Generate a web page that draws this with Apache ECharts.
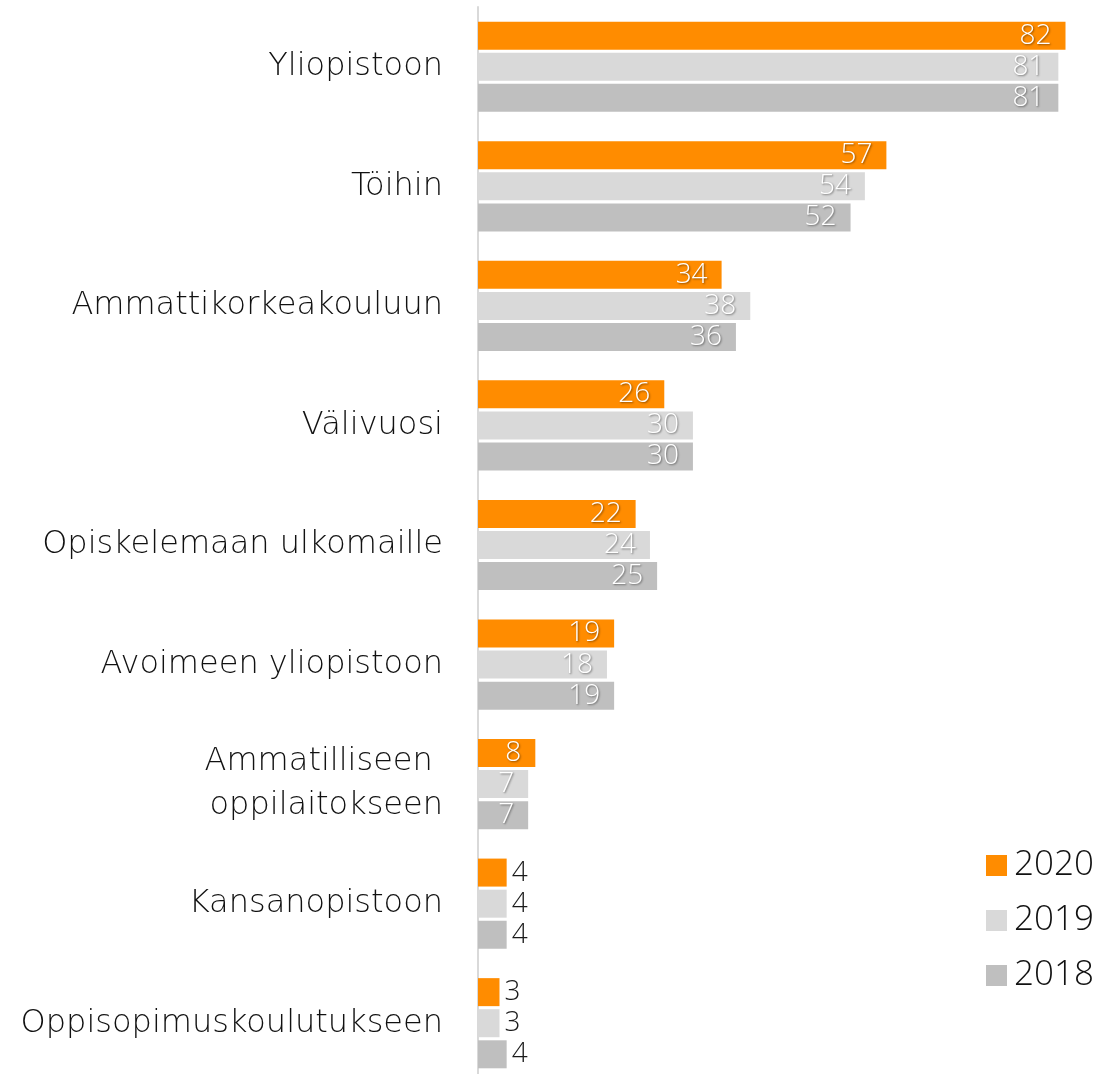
<!DOCTYPE html>
<html>
<head>
<meta charset="utf-8">
<script src="https://cdn.jsdelivr.net/npm/echarts@6/dist/echarts.min.js"></script>
<style>html,body{margin:0;padding:0;background:#fff;overflow:hidden}#c{width:1099px;height:1090px}</style>
</head>
<body>
<div id="c"></div>
<script>
const categories = ["Yliopistoon","Töihin","Ammattikorkeakouluun","Välivuosi","Opiskelemaan ulkomaille","Avoimeen yliopistoon","Ammatilliseen \noppilaitokseen","Kansanopistoon","Oppisopimuskoulutukseen"];
const seriesNames = ["2020","2019","2018"];
const values2020 = [82,57,34,26,22,19,8,4,3];
const values2019 = [81,54,38,30,24,18,7,4,3];
const values2018 = [81,52,36,30,25,19,7,4,4];
const colors = ["#FF8C00","#D9D9D9","#BFBFBF"];
const FONT = "Open Sans";
const CAT_FONT = "DejaVu Sans";

function mkData(arr){
  return arr.map(v => v < 5 ? {value:v, label:{position:'right', distance:5, color:'#1a1a1a', textShadowColor:'transparent', textShadowBlur:0, textShadowOffsetX:0, textShadowOffsetY:0}} : v);
}
function mkSeries(name, arr, color){
  return {
    name, type:'bar', data: mkData(arr), barWidth:28, barGap:'11%',
    itemStyle:{color},
    label:{show:true, position:'insideRight', distance:14, color:'#fff', fontFamily:FONT, fontWeight:300, fontSize:28,
      textShadowColor:'rgba(0,0,0,0.45)', textShadowBlur:2, textShadowOffsetX:1, textShadowOffsetY:1},
    emphasis:{disabled:true}
  };
}
const chart = echarts.init(document.getElementById('c'));
chart.setOption({
  animation:false,
  backgroundColor:'#fff',
  grid:{left:478, top:7, height:1076, right:12, containLabel:false},
  legend:{orient:'vertical', left:986, top:848, padding:0, itemWidth:21, itemHeight:21, itemGap:20, icon:'rect',
    textStyle:{fontFamily:FONT, fontWeight:300, fontSize:35, color:'#111', padding:[0,0,0,2]}, data:seriesNames},
  xAxis:{type:'value', min:0, max:85, show:false, splitLine:{show:false}},
  yAxis:{type:'category', data:categories, inverse:true,
    axisLine:{show:true, lineStyle:{color:'#D9D9D9', width:2}}, axisTick:{show:false},
    axisLabel:{margin:35, fontFamily:CAT_FONT, fontWeight:200, fontSize:32, color:'#111', lineHeight:44, padding:[8,0,0,0]}},
  series:[mkSeries(seriesNames[0], values2020, colors[0]), mkSeries(seriesNames[1], values2019, colors[1]), mkSeries(seriesNames[2], values2018, colors[2])]
});
</script>
</body>
</html>
